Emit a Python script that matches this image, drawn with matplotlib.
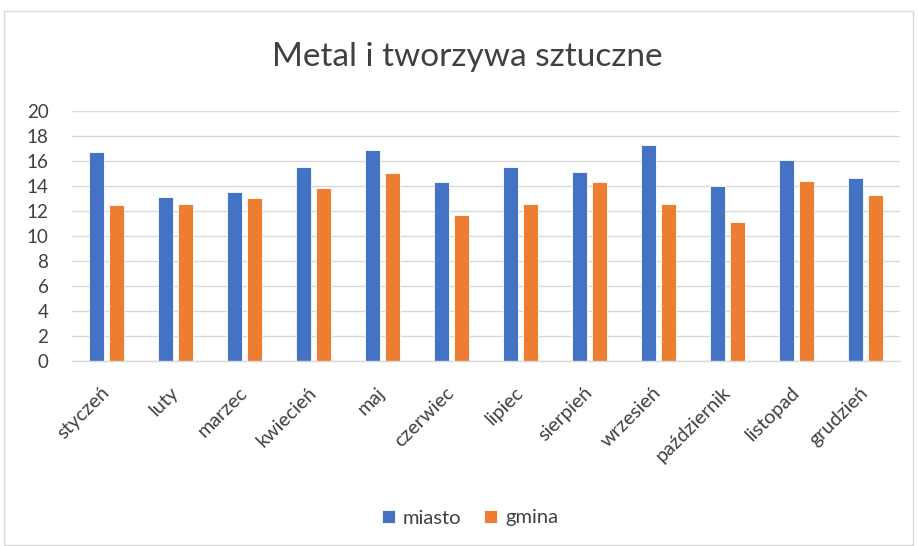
import matplotlib
matplotlib.use("Agg")
import matplotlib.pyplot as plt
import numpy as np
from matplotlib.patches import Rectangle

months = ["styczeń", "luty", "marzec", "kwiecień", "maj", "czerwiec", "lipiec",
          "sierpień", "wrzesień", "październik", "listopad", "grudzień"]
miasto = [16.7, 13.15, 13.5, 15.5, 16.87, 14.29, 15.5, 15.1, 17.3, 14.0, 16.1, 14.66]
gmina = [12.5, 12.57, 13.07, 13.8, 15.06, 11.69, 12.57, 14.34, 12.53, 11.08, 14.4, 13.25]
yticks = list(range(0, 21, 2))

plt.rcParams['font.family'] = ['Lato', 'DejaVu Sans']

fig = plt.figure(figsize=(9.18, 5.46), dpi=100)
ax = fig.add_axes([72/918, 1-361/546, (900-72)/918, (361-111)/546])

x = np.arange(len(months))
w = 0.225
off = 0.145
ax.bar(x - off, miasto, w, color="#4472C4", edgecolor="white", linewidth=0.6, label="miasto", zorder=3)
ax.bar(x + off, gmina, w, color="#ED7D31", edgecolor="white", linewidth=0.6, label="gmina", zorder=3)

ax.set_xlim(-0.5, len(months) - 0.5)
ax.set_ylim(0, 20)
ax.set_yticks(yticks)
ax.set_yticklabels([str(t) for t in yticks], fontsize=13.5, color="#404040")
ax.yaxis.grid(True, color="#D9D9D9", linewidth=1, zorder=0)
ax.set_xticks(x)
ax.set_xticklabels(months, rotation=45, ha="right", va="center", rotation_mode="anchor",
                   fontsize=14.2, color="#404040")
ax.tick_params(axis="both", length=0)
ax.tick_params(axis="x", pad=21)
ax.tick_params(axis="y", pad=17)
for s in ["top", "right", "left"]:
    ax.spines[s].set_visible(False)
ax.spines["bottom"].set_color("#D9D9D9")
ax.spines["bottom"].set_linewidth(1)
ax.spines["bottom"].set_zorder(4)

fig.text(467/918, 1-57/546, "Metal i tworzywa sztuczne", ha="center", va="center",
         fontsize=24, color="#404040")

fig.legend(loc="center", bbox_to_anchor=(470/918, 1-518/546), ncol=2, frameon=False,
           fontsize=14.5, handlelength=0.65, handleheight=0.65, handletextpad=0.4,
           columnspacing=1.15, labelcolor="#404040")

fig.patches.append(Rectangle((4/918, 1/546), 909/918, (545-11)/546, transform=fig.transFigure,
                             fill=False, edgecolor="#D9D9D9", linewidth=1))

fig.savefig("out.png", dpi=100)
